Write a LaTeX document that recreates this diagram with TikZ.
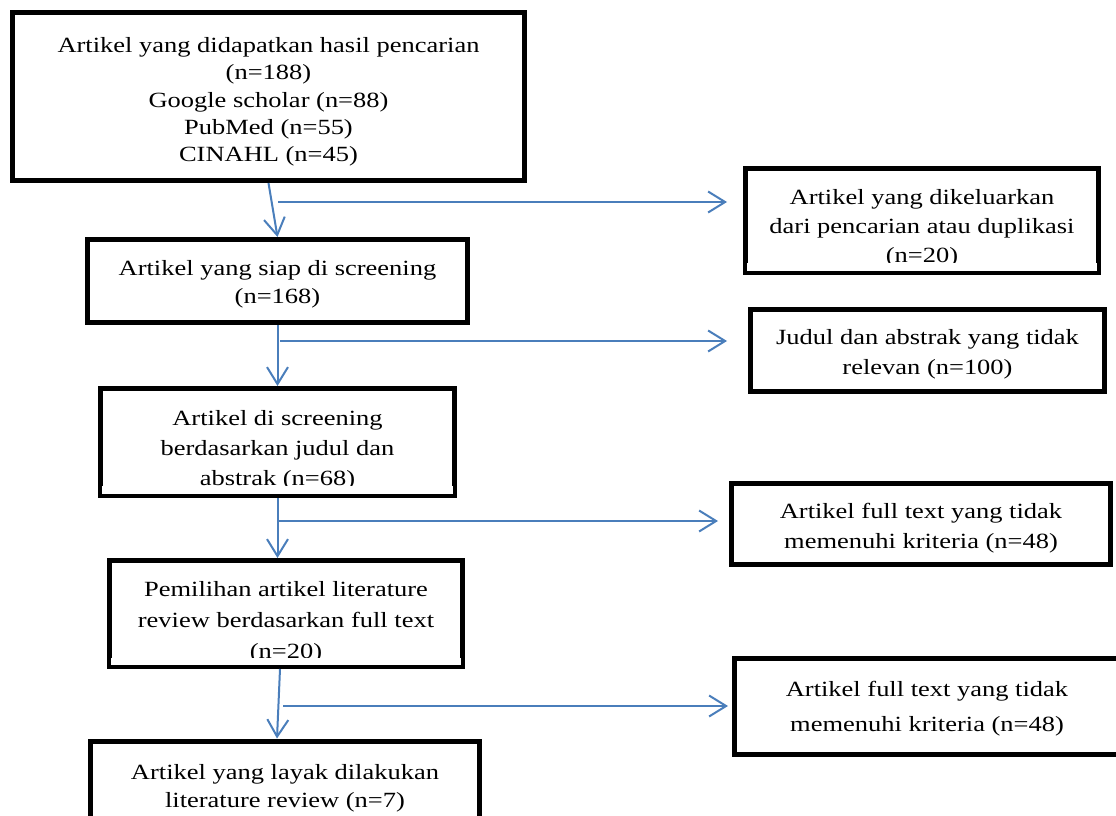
\documentclass[tikz,border=0pt]{standalone}
\usepackage{fontspec}
\setmainfont{Liberation Serif}[FakeStretch=1.22]
\usetikzlibrary{arrows.meta, positioning}
\definecolor{panah}{RGB}{74,126,187}
\newcommand{\turun}[1]{\rule{0pt}{#1}}

\begin{document}
\begin{tikzpicture}[x=1pt, y=-1pt,
		kotak/.style={draw, line width=5pt, align=center, inner sep=0pt, font=\fontsize{21.7}{30}\selectfont},
		alir/.style={draw=panah, line width=2pt, -{Straight Barb[length=17pt, width=21pt, line width=2pt]}}]
	\useasboundingbox (0,0) rectangle (1116,816);
	% Kotak utama (kiri)
	\node[kotak, minimum width=512pt, minimum height=168pt, font=\fontsize{21.7}{27.3}\selectfont] (hasil) at (268.5,96.5)
		{\turun{26pt}Artikel yang didapatkan hasil pencarian\\(n=188)\\Google scholar (n=88)\\PubMed (n=55)\\CINAHL (n=45)};
	\node[kotak, minimum width=380pt, minimum height=83pt, font=\fontsize{21.7}{28}\selectfont] (siap) at (277.5,281)
		{\turun{21pt}Artikel yang siap di screening\\(n=168)};
	\node[kotak, minimum width=354pt, minimum height=107pt] (abstrak) at (277.5,442)
		{\turun{31pt}Artikel di screening\\berdasarkan judul dan\\abstrak (n=68)};
	\node[kotak, minimum width=353pt, minimum height=106pt, font=\fontsize{21.7}{31}\selectfont] (pilih) at (286,613.5)
		{\turun{32pt}Pemilihan artikel literature\\review berdasarkan full text\\(n=20)};
	\node[kotak, minimum width=389pt, minimum height=90pt, font=\fontsize{21.7}{28}\selectfont] (layak) at (285,786)
		{\turun{19pt}Artikel yang layak dilakukan\\literature review (n=7)};
	% Kotak yang dikeluarkan (kanan)
	\node[kotak, minimum width=353pt, minimum height=104pt, font=\fontsize{21.7}{29}\selectfont] (hapus) at (922,220.5)
		{\turun{31pt}Artikel yang dikeluarkan\\dari pencarian atau duplikasi\\(n=20)};
	\node[kotak, minimum width=354pt, minimum height=82pt] (judul) at (927.5,350.5)
		{\turun{23pt}Judul dan abstrak yang tidak\\relevan (n=100)};
	\node[kotak, minimum width=379pt, minimum height=81pt] (tolak1) at (921,524)
		{\turun{23pt}Artikel full text yang tidak\\memenuhi kriteria (n=48)};
	\node[kotak, minimum width=385pt, minimum height=96pt, font=\fontsize{21.7}{35}\selectfont] (tolak2) at (927,706.5)
		{\turun{20pt}Artikel full text yang tidak\\memenuhi kriteria (n=48)};
	% Teks terpotong di bawah
	\foreach \n/\h in {hapus/8, abstrak/8, pilih/7}
		\fill[white] ([shift={(4,-4)}]\n.south west) rectangle ([shift={(-4,-4-\h)}]\n.south east);
	% Titik cabang
	\coordinate (c1) at (278,202);
	\coordinate (c2) at (280,341);
	\coordinate (c3) at (277,521);
	\coordinate (c4) at (283,706);
	% Panah ke bawah
	\draw[alir] (hasil.south) -- (siap.north);
	\draw[alir] (siap.south) -- (abstrak.north);
	\draw[alir] (abstrak.south) -- (abstrak.south |- pilih.north);
	\draw[alir] ([xshift=-6pt]pilih.south) -- ([xshift=-8pt]layak.north);
	% Panah ke kanan
	\draw[alir, shorten >=16pt] (c1) -- (c1 -| hapus.west);
	\draw[alir, shorten >=21pt] (c2) -- (c2 -| judul.west);
	\draw[alir, shorten >=11pt] (c3) -- (c3 -| tolak1.west);
	\draw[alir, shorten >=4pt] (c4) -- (c4 -| tolak2.west);
\end{tikzpicture}
\end{document}
